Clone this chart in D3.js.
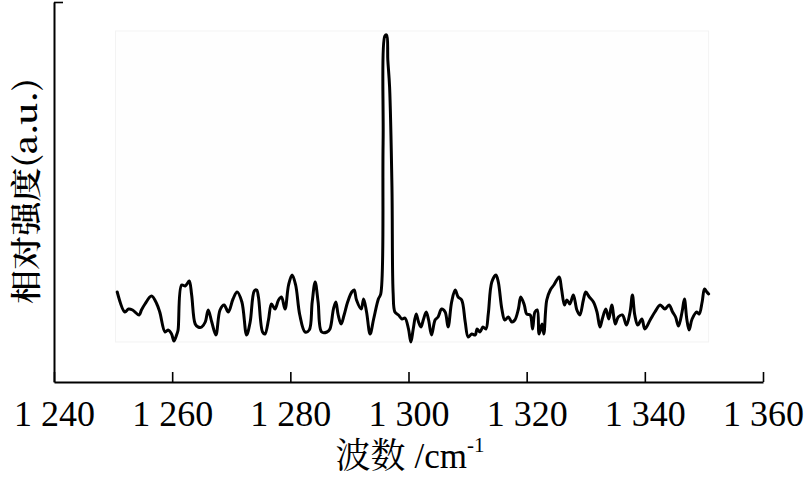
<!DOCTYPE html>
<html>
<head>
<meta charset="utf-8">
<script src="https://cdn.jsdelivr.net/npm/d3@7"></script>
<style>
  html, body { margin: 0; padding: 0; background: #fff; }
  svg { display: block; }
</style>
</head>
<body>
<div id="chart"></div>
<script>
const WIDTH = 804;
const HEIGHT = 480;
const SERIF = "'Liberation Serif'";
const CJK = "'Noto Serif CJK SC'";

// Raman-like spectrum (wavenumber cm-1, relative intensity a.u.)
const wavenumbers = [
  1250.7, 1252.0, 1252.6, 1253.3, 1254.4, 1254.8, 1255.4, 1256.5, 1257.4, 1257.9,
  1258.8, 1259.3, 1259.9, 1260.3, 1260.8, 1261.0, 1261.6, 1262.2, 1262.5, 1262.9,
  1263.3, 1263.9, 1264.4, 1265.0, 1265.6, 1266.1, 1266.7, 1267.4, 1268.1, 1268.8,
  1269.5, 1270.3, 1271.0, 1271.8, 1272.6, 1273.2, 1273.9, 1274.3, 1274.6, 1275.3,
  1275.7, 1276.3, 1276.8, 1277.4, 1278.0, 1278.5, 1279.1, 1279.7, 1280.3, 1280.9,
  1281.6, 1282.5, 1283.2, 1283.7, 1284.2, 1284.7, 1285.3, 1286.2, 1286.7, 1287.3,
  1287.7, 1288.1, 1288.6, 1289.1, 1289.7, 1290.4, 1290.8, 1291.2, 1292.0, 1292.4,
  1292.9, 1293.5, 1294.1, 1294.9, 1295.3, 1295.7, 1296.0, 1296.3, 1296.5, 1296.8,
  1297.2, 1297.4, 1297.7, 1298.3, 1298.9, 1299.4, 1300.0, 1300.4, 1300.8, 1301.3,
  1301.7, 1302.1, 1302.5, 1303.0, 1303.4, 1303.9, 1304.5, 1305.0, 1305.6, 1306.2,
  1306.7, 1307.3, 1307.9, 1308.4, 1309.0, 1309.6, 1310.1, 1310.7, 1311.3, 1311.6,
  1312.1, 1312.6, 1313.1, 1313.5, 1314.1, 1314.8, 1315.2, 1315.8, 1316.3, 1316.9,
  1317.5, 1318.0, 1318.6, 1319.0, 1319.6, 1320.0, 1320.6, 1321.0, 1321.4, 1321.8,
  1322.1, 1322.6, 1322.9, 1323.4, 1324.0, 1324.6, 1325.5, 1325.9, 1326.4, 1326.8,
  1327.3, 1327.9, 1328.5, 1329.0, 1329.6, 1330.0, 1330.6, 1331.3, 1331.9, 1332.4,
  1332.8, 1333.4, 1333.9, 1334.4, 1335.0, 1335.5, 1336.2, 1336.9, 1337.5, 1337.9,
  1338.3, 1338.8, 1339.5, 1340.0, 1340.9, 1341.7, 1342.6, 1343.4, 1344.1, 1344.7,
  1345.2, 1345.7, 1346.3, 1346.7, 1347.1, 1347.5, 1348.0, 1348.8, 1349.2, 1349.7,
  1350.1, 1350.5, 1350.8
];
const intensities = [
  90, 70, 73, 72, 67, 72, 78, 86, 78, 70,
  50, 52, 48, 41, 48, 52, 97, 96, 98, 101,
  87, 58, 55, 55, 60, 72, 60, 47, 72, 77,
  70, 83, 90, 80, 47, 60, 91, 92, 85, 50,
  48, 62, 78, 73, 82, 85, 73, 97, 107, 97,
  67, 50, 52, 80, 100, 80, 50, 50, 53, 73,
  80, 67, 58, 67, 80, 90, 92, 82, 73, 83,
  70, 48, 63, 83, 88, 239, 346, 347, 322, 295,
  195, 89, 70, 67, 63, 64, 53, 40, 53, 68,
  60, 55, 62, 70, 62, 47, 62, 65, 73, 70,
  55, 80, 92, 85, 82, 60, 45, 48, 47, 53,
  50, 55, 53, 68, 100, 107, 100, 73, 62, 65,
  60, 62, 73, 85, 77, 68, 67, 53, 70, 72,
  48, 58, 48, 82, 92, 97, 105, 93, 77, 82,
  78, 87, 72, 67, 82, 90, 85, 80, 70, 55,
  63, 73, 63, 77, 58, 65, 67, 57, 70, 87,
  67, 57, 63, 53, 62, 70, 77, 73, 77, 70,
  65, 56, 70, 83, 63, 52, 63, 70, 68, 80,
  93, 90, 88
];
const xTicks = [1240, 1260, 1280, 1300, 1320, 1340, 1360];
const yMax = 380;

const spectrum = wavenumbers.map((w, i) => ({ w, v: intensities[i] }));

const x = d3.scaleLinear().domain([1240, 1360]).range([54, 763]);
const y = d3.scaleLinear().domain([0, yMax]).range([382, 2]);

const svg = d3.select("#chart")
  .append("svg")
  .attr("width", WIDTH)
  .attr("height", HEIGHT);

// faint frame of the pasted plot area
svg.append("rect")
  .attr("x", x(1250.4))
  .attr("y", y(351))
  .attr("width", x(1350.8) - x(1250.4))
  .attr("height", y(40) - y(351))
  .attr("fill", "#fefefe")
  .attr("stroke", "#f3f3f3")
  .attr("stroke-width", 1);

const xAxis = svg.append("g")
  .attr("transform", `translate(0,${y(0)})`)
  .call(
    d3.axisBottom(x)
      .tickValues(xTicks)
      .tickSize(-10)
      .tickSizeOuter(0)
      .tickPadding(18)
      .tickFormat((d) => String(d).replace(/^(\d)(\d{3})$/, "$1 $2"))
  )
  .attr("font-family", SERIF)
  .attr("font-size", 36);
xAxis.select(".domain").attr("stroke", "#000").attr("stroke-width", 2);
xAxis.selectAll(".tick line").attr("stroke", "#000").attr("stroke-width", 1.6);
xAxis.selectAll(".tick text")
  .attr("fill", "#000")
  .attr("font-family", SERIF)
  .attr("font-size", 36);

const yAxis = svg.append("g")
  .attr("transform", `translate(${x(1240)},0)`)
  .call(
    d3.axisLeft(y)
      .tickValues([yMax])
      .tickSize(-9)
      .tickSizeOuter(0)
      .tickFormat("")
  );
yAxis.select(".domain").attr("stroke", "#000").attr("stroke-width", 2);
yAxis.selectAll(".tick line").attr("stroke", "#000").attr("stroke-width", 1.6);

const line = d3.line()
  .x((d) => x(d.w))
  .y((d) => y(d.v))
  .curve(d3.curveCatmullRom.alpha(0.5));

svg.append("path")
  .datum(spectrum)
  .attr("fill", "none")
  .attr("stroke", "#000")
  .attr("stroke-width", 3)
  .attr("stroke-linejoin", "round")
  .attr("stroke-linecap", "round")
  .attr("d", line);

// axis titles
const xTitle = svg.append("text")
  .attr("x", 410)
  .attr("y", 468)
  .attr("text-anchor", "middle")
  .attr("fill", "#000")
  .attr("font-size", 35);
xTitle.append("tspan")
  .attr("font-family", CJK)
  .text("波数 ");
xTitle.append("tspan")
  .attr("font-family", SERIF)
  .text("/cm");
xTitle.append("tspan")
  .attr("font-family", SERIF)
  .attr("font-size", 21)
  .attr("dy", -16)
  .text("-1");

svg.append("text")
  .attr("transform", "translate(37,191) rotate(-90)")
  .attr("text-anchor", "middle")
  .attr("fill", "#000")
  .attr("font-family", CJK)
  .attr("font-weight", 600)
  .attr("font-size", 31)
  .attr("textLength", 226)
  .attr("lengthAdjust", "spacingAndGlyphs")
  .text("相对强度(a.u.)");
</script>
</body>
</html>
